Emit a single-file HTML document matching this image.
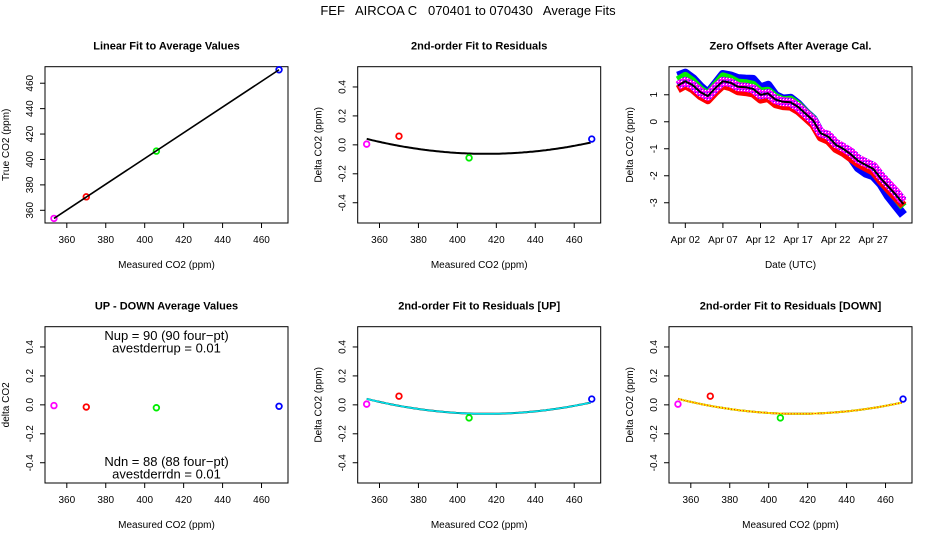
<!DOCTYPE html>
<html><head><meta charset="utf-8"><style>
html,body{margin:0;padding:0;background:#fff;}
svg{display:block;font-family:"Liberation Sans",sans-serif;}
</style></head><body>
<svg id="chart" width="936" height="540" viewBox="0 0 936 540" xmlns="http://www.w3.org/2000/svg">
<defs>
<pattern id="chk" width="3" height="3" patternUnits="userSpaceOnUse">
<rect width="3" height="3" fill="#ff00ff"/><rect width="1" height="1" fill="#ffffff"/><rect x="2" y="2" width="1" height="1" fill="#3030ff"/>
</pattern>
</defs>
<text x="468" y="15" font-size="13" text-anchor="middle" xml:space="preserve">FEF   AIRCOA C   070401 to 070430   Average Fits</text>
</svg>
<script>
// ---- data ----
const calMeasured = [353.4, 370.0, 406.0, 469.0];
const calTrue = [353.6, 370.6, 406.6, 470.6];
const calColors = ['#ff00ff', '#ff0000', '#00ee00', '#0000ff'];
const residuals = [0.005, 0.06, -0.09, 0.04];
const upDownDiff = [-0.005, -0.015, -0.02, -0.01];
const fitCoef = [2.73e-5, 415, -0.062]; // a, vertex x, vertex y
const residTicks = [-0.4, -0.2, 0.0, 0.2, 0.4];
const residTickLabels = ['-0.4', '-0.2', '0.0', '0.2', '0.4'];
const co2Ticks = [360, 380, 400, 420, 440, 460];
const days = [1,2,3,4,5,6,7,8,9,10,11,12,13,14,15,16,17,18,19,20,21,22,23,24,25,26,27,28,29,30,31];
const offBlack = [1.34,1.5,1.35,1.1,0.95,1.25,1.5,1.45,1.3,1.28,1.22,1.0,1.05,0.82,0.74,0.72,0.55,0.3,0.05,-0.42,-0.55,-0.85,-1.0,-1.2,-1.45,-1.6,-1.75,-2.1,-2.4,-2.7,-3.05];
const offBlue = [1.69,1.8,1.6,1.3,1.05,1.4,1.75,1.7,1.6,1.58,1.57,1.25,1.35,0.97,0.84,0.87,0.65,0.35,0.1,-0.42,-0.6,-0.9,-1.1,-1.3,-1.7,-1.9,-2.0,-2.3,-2.75,-3.1,-3.45];
const offGreen = [1.54,1.7,1.5,1.2,1.0,1.35,1.68,1.6,1.45,1.43,1.37,1.12,1.15,0.92,0.79,0.82,0.63,0.35,0.1,-0.42,-0.55,-0.9,-1.05,-1.25,-1.5,-1.65,-1.85,-2.15,-2.5,-2.8,-3.15];
const offRed = [1.2,1.35,1.2,0.95,0.8,1.1,1.35,1.28,1.13,1.1,1.05,0.82,0.88,0.65,0.58,0.56,0.4,0.15,-0.1,-0.58,-0.7,-1.0,-1.15,-1.35,-1.55,-1.7,-1.85,-2.2,-2.5,-2.8,-3.1];
const offMagenta = [1.34,1.5,1.35,1.1,0.95,1.25,1.5,1.45,1.3,1.28,1.22,1.0,1.05,0.82,0.74,0.72,0.55,0.3,0.05,-0.4,-0.5,-0.8,-0.95,-1.12,-1.38,-1.52,-1.65,-2.0,-2.3,-2.6,-2.95];
const dateTicks = [2, 7, 12, 17, 22, 27];
const dateTickLabels = ['Apr 02', 'Apr 07', 'Apr 12', 'Apr 17', 'Apr 22', 'Apr 27'];
const offTicks = [-3, -2, -1, 0, 1];

const NS = 'http://www.w3.org/2000/svg';
const svg = document.getElementById('chart');
function mk(tag, attrs, parent, txt) {
  const e = document.createElementNS(NS, tag);
  for (const k in attrs) e.setAttribute(k, attrs[k]);
  if (txt !== undefined) e.textContent = txt;
  (parent || svg).appendChild(e);
  return e;
}
const W = 243, H = 156.3;
function panel(name, left, top, xd, yd, xt, xtl, yt, ytl, title, xlab, ylab) {
  const g = mk('g', {});
  
  
  const sx = v => left + (v - xd[0]) / (xd[1] - xd[0]) * W;
  const sy = v => top + H - (v - yd[0]) / (yd[1] - yd[0]) * H;
  const box = mk('rect', {x: left, y: top, width: W, height: H, fill: 'none', stroke: '#000', 'stroke-width': 1}, g);
  
  
  const t = mk('text', {x: left + W / 2, y: top - 17, 'font-size': 11, 'font-weight': 'bold', 'text-anchor': 'middle'}, g, title);
  
  
  const xl = mk('text', {x: left + W / 2, y: top + H + 45, 'font-size': 10, 'text-anchor': 'middle'}, g, xlab);
  
  
  const ylx = left - 36, yly = top + H / 2;
  const yl = mk('text', {x: ylx, y: yly, 'font-size': 10, 'text-anchor': 'middle', transform: `rotate(-90 ${ylx} ${yly})`}, g, ylab);
  
  
  xt.forEach((v, i) => {
    const x = sx(v);
    mk('line', {x1: x, x2: x, y1: top + H, y2: top + H + 5, stroke: '#000'}, g);
    const tl = mk('text', {x: x, y: top + H + 20, 'font-size': 10, 'text-anchor': 'middle'}, g, xtl[i]);
    
    
  });
  yt.forEach((v, i) => {
    const y = sy(v);
    mk('line', {x1: left - 5, x2: left, y1: y, y2: y, stroke: '#000'}, g);
    const tx = left - 12;
    const tl = mk('text', {x: tx, y: y, 'font-size': 10, 'text-anchor': 'middle', transform: `rotate(-90 ${tx} ${y})`}, g, ytl[i]);
    
    
  });
  return {g, sx, sy};
}
function pts(p, ys) {
  calMeasured.forEach((v, i) => {
    const c = mk('circle', {cx: p.sx(v), cy: p.sy(ys[i]), r: 2.8, fill: 'none', stroke: calColors[i], 'stroke-width': 1.8}, p.g);
    
    
  });
}
function curve(p, color, width, dash) {
  let d = '';
  for (let v = calMeasured[0]; v <= calMeasured[3] + 0.01; v += 1) {
    const y = fitCoef[0] * (v - fitCoef[1]) * (v - fitCoef[1]) + fitCoef[2];
    d += (d ? 'L' : 'M') + p.sx(v).toFixed(1) + ',' + p.sy(y).toFixed(1);
  }
  const a = {d: d, fill: 'none', stroke: color, 'stroke-width': width};
  if (dash) a['stroke-dasharray'] = dash;
  const e = mk('path', a, p.g);
  
  
}
const xd = [348.8, 473.6], co2L = co2Ticks.map(String), rd = [-0.54, 0.54];

// Panel 1
const p1 = panel('linear-fit-panel', 45, 66.7, xd, [350, 473], co2Ticks, co2L, co2Ticks, co2L, 'Linear Fit to Average Values', 'Measured CO2 (ppm)', 'True CO2 (ppm)');
pts(p1, calTrue);
const fl = mk('line', {x1: p1.sx(calMeasured[0]), y1: p1.sy(calTrue[0]), x2: p1.sx(calMeasured[3]), y2: p1.sy(calTrue[3]), stroke: '#000', 'stroke-width': 1.6}, p1.g);



// Panel 2
const p2 = panel('residual-fit-panel', 357.7, 66.7, xd, rd, co2Ticks, co2L, residTicks, residTickLabels, '2nd-order Fit to Residuals', 'Measured CO2 (ppm)', 'Delta CO2 (ppm)');
curve(p2, '#000', 2);
pts(p2, residuals);

// Panel 3
const p3 = panel('zero-offsets-panel', 669, 66.7, [-0.17, 32.15], [-3.75, 2.04], dateTicks, dateTickLabels, offTicks, offTicks.map(String), 'Zero Offsets After Average Cal.', 'Date (UTC)', 'Delta CO2 (ppm)');
[[offBlue, '#0000ff', 9, 'series-blue'], [offGreen, '#00ee00', 8, 'series-green'], [offRed, '#ff0000', 8, 'series-red'], [offMagenta, 'url(#chk)', 9, 'series-magenta'], [offBlack, '#000', 2, 'series-black']].forEach(s => {
  const d = days.map((v, i) => (i ? 'L' : 'M') + p3.sx(v).toFixed(1) + ',' + p3.sy(s[0][i]).toFixed(1)).join('');
  const e = mk('path', {d: d, fill: 'none', stroke: s[1], 'stroke-width': s[2], 'stroke-linejoin': 'round'}, p3.g);
  
  
});

// Panel 4
const p4 = panel('up-down-panel', 45, 326.7, xd, rd, co2Ticks, co2L, residTicks, residTickLabels, 'UP - DOWN Average Values', 'Measured CO2 (ppm)', 'delta CO2');
pts(p4, upDownDiff);
[['Nup = 90 (90 four\u2212pt)', 340], ['avestderrup =  0.01', 352.5], ['Ndn = 88 (88 four\u2212pt)', 466], ['avestderrdn =  0.01', 478.5]].forEach(a => {
  const e = mk('text', {x: 166.5, y: a[1], 'font-size': 13, 'text-anchor': 'middle', 'xml:space': 'preserve'}, p4.g, a[0]);
  
  
});

// Panel 5
const p5 = panel('residual-fit-up-panel', 357.7, 326.7, xd, rd, co2Ticks, co2L, residTicks, residTickLabels, '2nd-order Fit to Residuals [UP]', 'Measured CO2 (ppm)', 'Delta CO2 (ppm)');
curve(p5, '#000', 2);
curve(p5, '#00e5ee', 1.6);
pts(p5, residuals);

// Panel 6
const p6 = panel('residual-fit-down-panel', 669, 326.7, xd, rd, co2Ticks, co2L, residTicks, residTickLabels, '2nd-order Fit to Residuals [DOWN]', 'Measured CO2 (ppm)', 'Delta CO2 (ppm)');
curve(p6, '#000', 2);
curve(p6, '#ffee00', 2);
curve(p6, '#ff0000', 1, '1 2');
pts(p6, residuals);
</script>
</body></html>
